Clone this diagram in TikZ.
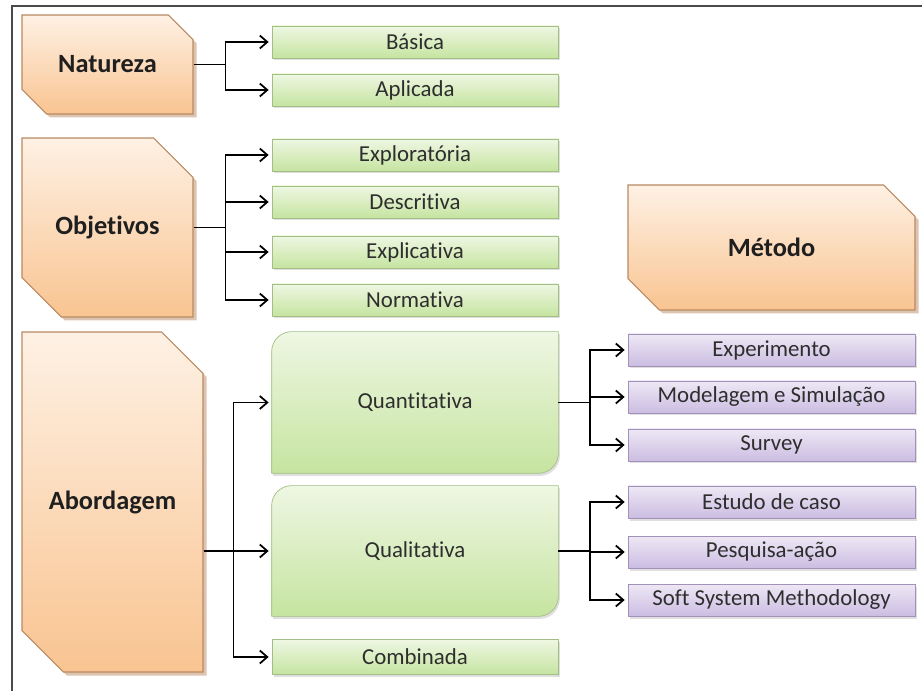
\documentclass[tikz,border=0pt]{standalone}
\usepackage{fontspec}
\setmainfont{Carlito}[Ligatures=NoCommon]
\usetikzlibrary{shapes.misc, arrows.meta, positioning, backgrounds, calc, shadows}
\definecolor{colOrgTop}{HTML}{FEF1E4}
\definecolor{colOrgBot}{HTML}{F9C491}
\definecolor{colOrgBdr}{HTML}{B98A62}
\definecolor{colGrnTop}{HTML}{EEF7E3}
\definecolor{colGrnBot}{HTML}{C6E4A0}
\definecolor{colGrnBdr}{HTML}{A3BE84}
\definecolor{colPurTop}{HTML}{EEE8F5}
\definecolor{colPurBot}{HTML}{CBBDE2}
\definecolor{colPurBdr}{HTML}{A292BA}
\definecolor{colFrame}{HTML}{4A4A4A}

\tikzset{
	catbox/.style={chamfered rectangle, chamfered rectangle corners={north east, south west},
		draw=colOrgBdr, line width=0.6pt, top color=colOrgTop, bottom color=colOrgBot,
		drop shadow={opacity=0.5, fill=colOrgBdr, shadow xshift=0.07cm, shadow yshift=-0.07cm},
		font=\fontsize{15}{18}\selectfont\bfseries, text=black!88, inner sep=0pt},
	grnbox/.style={rectangle, draw=colGrnBdr, line width=0.4pt, top color=colGrnTop, bottom color=colGrnBot,
		drop shadow={opacity=0.25, shadow xshift=0.03cm, shadow yshift=-0.05cm},
		minimum width=5.72cm, minimum height=0.64cm, inner sep=0pt, text=black!82},
	purbox/.style={grnbox, draw=colPurBdr, top color=colPurTop, bottom color=colPurBot, minimum width=5.74cm},
	bigtxt/.style={rectangle, minimum width=5.72cm, inner sep=0pt, text=black!82},
	bigbox/.style={draw=colGrnBdr, line width=0.4pt, top color=colGrnTop, bottom color=colGrnBot,
		drop shadow={opacity=0.25, shadow xshift=0.03cm, shadow yshift=-0.05cm}},
	link/.style={line width=1pt, -{Straight Barb[length=1.5mm, width=2.6mm]}, shorten >=0.06cm},
}

\begin{document}
\begin{tikzpicture}[font=\fontsize{13}{15}\selectfont]
		\useasboundingbox (0,0) rectangle (18.44,13.82);
		\draw[colFrame, line width=1.2pt] (0.24,0) -- (0.24,13.70) -- (18.44,13.70);
		% categories
		\node[catbox, minimum width=3.42cm, minimum height=1.98cm, chamfered rectangle sep=0.32cm] (nat) at (2.15,12.53) {Natureza};
		\node[catbox, minimum width=3.42cm, minimum height=3.58cm, chamfered rectangle sep=0.56cm] (obj) at (2.15,9.27) {Objetivos};
		\node[catbox, minimum width=3.62cm, minimum height=6.80cm, chamfered rectangle sep=0.60cm] (abo) at (2.25,3.78) {Abordagem};
		\node[catbox, minimum width=5.74cm, minimum height=2.50cm, chamfered rectangle sep=0.44cm] (met) at (15.43,8.87) {Método};
		% options
		\node[grnbox] (bas) at (8.30,12.98) {Básica};
		\node[grnbox] (apl) at (8.30,12.02) {Aplicada};
		\node[grnbox] (exp) at (8.30,10.72) {Exploratória};
		\node[grnbox] (des) at (8.30,9.78) {Descritiva};
		\node[grnbox] (xpl) at (8.30,8.78) {Explicativa};
		\node[grnbox] (nor) at (8.30,7.82) {Normativa};
		\node[grnbox, minimum height=0.70cm] (com) at (8.30,0.68) {Combinada};
		\node[bigtxt, minimum height=2.82cm] (qnt) at (8.30,5.77) {Quantitativa};
		\node[bigtxt, minimum height=2.60cm] (qlt) at (8.30,2.80) {Qualitativa};
		\begin{scope}[on background layer]
			\path[bigbox] ([yshift=-0.4cm]qnt.north west) arc[start angle=180, end angle=90, radius=0.4cm]
			-- (qnt.north east) -- ([yshift=0.4cm]qnt.south east) arc[start angle=0, end angle=-90, radius=0.4cm]
			-- (qnt.south west) -- cycle;
			\path[bigbox] ([yshift=-0.4cm]qlt.north west) arc[start angle=180, end angle=90, radius=0.4cm]
			-- (qlt.north east) -- ([yshift=0.4cm]qlt.south east) arc[start angle=0, end angle=-90, radius=0.4cm]
			-- (qlt.south west) -- cycle;
		\end{scope}
		% methods
		\node[purbox] (xpr) at (15.43,6.82) {Experimento};
		\node[purbox] (mod) at (15.43,5.88) {Modelagem e Simulação};
		\node[purbox] (sur) at (15.43,4.92) {Survey};
		\node[purbox] (est) at (15.43,3.78) {Estudo de caso};
		\node[purbox] (pes) at (15.43,2.78) {Pesquisa-ação};
		\node[purbox] (ssm) at (15.43,1.82) {Soft System Methodology};
		% connectors
		\coordinate (natj) at ($(nat.east)+(0.64,0)$);
		\draw[line width=1pt] (nat.east) -- (natj);
		\draw[link] (natj) |- (bas.west);
		\draw[link] (natj) |- (apl.west);
		\coordinate (objj) at ($(obj.east)+(0.64,0)$);
		\draw[line width=1pt] (obj.east) -- (objj);
		\foreach \t in {exp,des,xpl,nor}
		\draw[link] (objj) |- (\t.west);
		\coordinate (abos) at (abo.east |- qlt.west);
		\coordinate (aboj) at ($(abos)+(0.60,0)$);
		\draw[link] (abos) -- (qlt.west);
		\draw[link] (aboj) |- (qnt.west);
		\draw[link] (aboj) |- (com.west);
		\coordinate (qntj) at ($(qnt.east)+(0.64,0)$);
		\draw[line width=1pt] (qnt.east) -- (qntj);
		\foreach \t in {xpr,mod,sur}
		\draw[link] (qntj) |- (\t.west);
		\coordinate (qltj) at ($(qlt.east)+(0.64,0)$);
		\draw[line width=1pt] (qlt.east) -- (qltj);
		\foreach \t in {est,pes,ssm}
		\draw[link] (qltj) |- (\t.west);
\end{tikzpicture}
\end{document}
